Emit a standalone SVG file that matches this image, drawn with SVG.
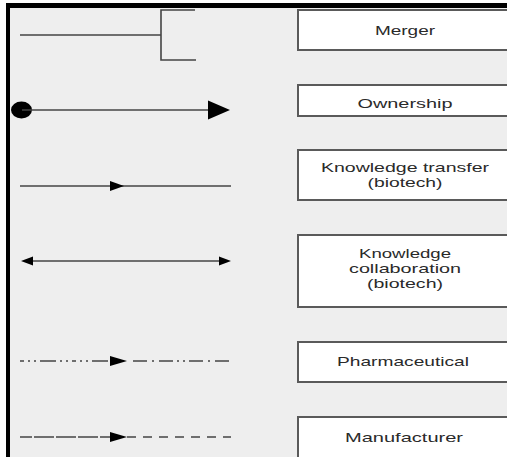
<svg xmlns="http://www.w3.org/2000/svg" width="507" height="457" viewBox="0 0 507 457">
<style>
.box{fill:#ffffff;stroke:#5a5a5a;stroke-width:2}
.lbl{font-family:"Liberation Sans",Arial,sans-serif;font-size:13px;fill:#2a2a2a;text-anchor:middle}
.ln{fill:none;stroke:#444;stroke-width:1.6}
.ah{fill:#000}
</style>
<rect x="0" y="0" width="507" height="457" fill="#ffffff"/>
<rect x="10" y="8" width="497" height="449" fill="#eeeeee"/>
<rect x="6" y="3" width="501" height="5" fill="#000"/>
<rect x="6" y="3" width="4" height="454" fill="#000"/>

<g id="connectors">
  <!-- Merger -->
  <path class="ln" d="M20 35 H161 M195 10 H161 V60 H196"/>
  <!-- Ownership -->
  <ellipse cx="21.5" cy="110" rx="10.5" ry="8.5" fill="#000"/>
  <path class="ln" d="M22 110 H210" stroke="#111"/>
  <polygon class="ah" points="208,100.5 230,110 208,119.5"/>
  <!-- Knowledge transfer -->
  <path class="ln" d="M20 186 H231" stroke="#555"/>
  <polygon class="ah" points="110,181 124,186 110,191"/>
  <!-- Knowledge collaboration -->
  <path class="ln" d="M28 261 H224" stroke="#555" stroke-width="2"/>
  <polygon class="ah" points="21,261 33,256.5 33,265.5"/>
  <polygon class="ah" points="231,261 219,256.5 219,265.5"/>
  <!-- Pharmaceutical -->
  <path class="ln" d="M20 361 H112" stroke="#222" stroke-dasharray="4 4 2 4 2 4 16 4 2 4 2 4"/>
  <path class="ln" d="M133 361 H231" stroke="#222" stroke-dasharray="14 5 2 5 14 4 2 4 2 4"/>
  <polygon class="ah" points="110,356 127,361 110,366"/>
  <!-- Manufacturer -->
  <path class="ln" d="M20 437 H112" stroke="#222" stroke-dasharray="12 2 20 2 20 2 20 2"/>
  <path class="ln" d="M127 437 H231" stroke="#222" stroke-dasharray="9 7"/>
  <polygon class="ah" points="110,432 127,437 110,442"/>
</g>

<g id="merger">
  <rect class="box" x="298" y="10" width="216" height="40"/>
  <text class="lbl" x="405" y="35" textLength="60" lengthAdjust="spacingAndGlyphs">Merger</text>
</g>
<g id="ownership">
  <rect class="box" x="298" y="85" width="216" height="31"/>
  <text class="lbl" x="405" y="108" textLength="95" lengthAdjust="spacingAndGlyphs">Ownership</text>
</g>
<g id="knowledge-transfer">
  <rect class="box" x="298" y="150" width="216" height="50"/>
  <text class="lbl" x="405" y="172" textLength="168" lengthAdjust="spacingAndGlyphs">Knowledge transfer</text>
  <text class="lbl" x="405" y="187" textLength="75" lengthAdjust="spacingAndGlyphs">(biotech)</text>
</g>
<g id="knowledge-collaboration">
  <rect class="box" x="298" y="235" width="216" height="72"/>
  <text class="lbl" x="405" y="258" textLength="92" lengthAdjust="spacingAndGlyphs">Knowledge</text>
  <text class="lbl" x="405" y="273" textLength="112" lengthAdjust="spacingAndGlyphs">collaboration</text>
  <text class="lbl" x="405" y="288" textLength="76" lengthAdjust="spacingAndGlyphs">(biotech)</text>
</g>
<g id="pharmaceutical">
  <rect class="box" x="298" y="342" width="216" height="40"/>
  <text class="lbl" x="403" y="366" textLength="132" lengthAdjust="spacingAndGlyphs">Pharmaceutical</text>
</g>
<g id="manufacturer">
  <rect class="box" x="298" y="417" width="216" height="50"/>
  <text class="lbl" x="404" y="442" textLength="118" lengthAdjust="spacingAndGlyphs">Manufacturer</text>
</g>
</svg>
